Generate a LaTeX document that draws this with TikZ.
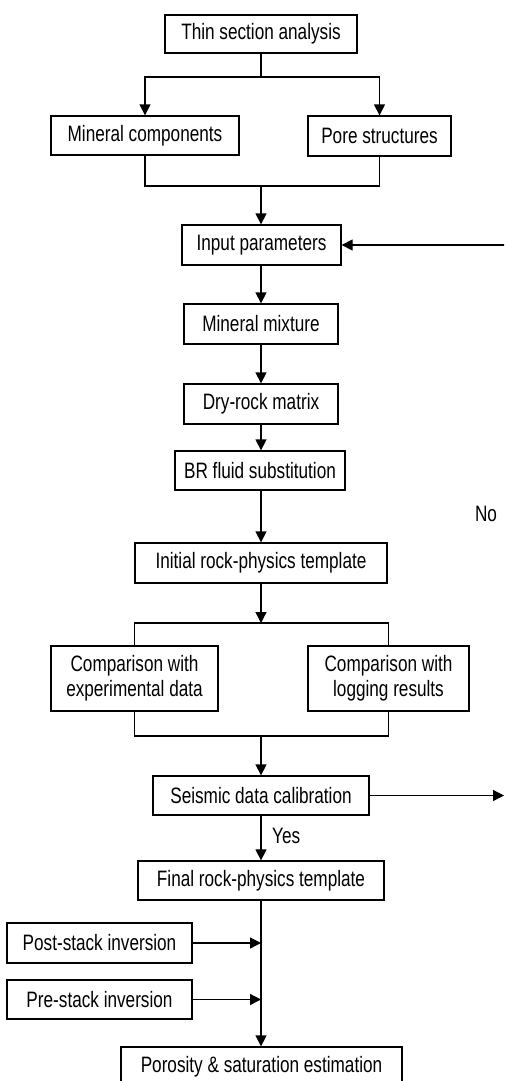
\documentclass[tikz,border=0pt]{standalone}
\usepackage{fontspec}
\setmainfont{Liberation Sans}[FakeStretch=0.77]
\usetikzlibrary{arrows.meta}
\begin{document}
\begin{tikzpicture}[x=1pt,y=1pt,
  every node/.style={font=\fontsize{22.3}{25}\selectfont},
  box/.style={draw, line width=1.3pt, inner sep=0pt, align=center},
  conn/.style={line width=1.3pt},
  arr/.style={conn, -{Triangle[length=11pt,width=11pt]}},
  lbl/.style={inner sep=0pt}
]
\useasboundingbox (0,0) rectangle (504,-1081);
\clip (0,0) rectangle (504,-1081);

\node[box, minimum width=192pt, minimum height=38pt] (thin) at (261,-34) {Thin section analysis};
\node[box, minimum width=188pt, minimum height=39pt] (mc) at (145,-135.5) {Mineral components};
\node[box, minimum width=143pt, minimum height=40pt] (ps) at (379.5,-136) {Pore structures};
\node[box, minimum width=159pt, minimum height=40pt] (inp) at (261.5,-245) {Input parameters};
\node[box, minimum width=154pt, minimum height=40pt] (mix) at (261,-324) {Mineral mixture};
\node[box, minimum width=154pt, minimum height=40pt] (dry) at (261,-404) {Dry-rock matrix};
\node[box, minimum width=170pt, minimum height=39pt] (br) at (260,-470.5) {BR fluid substitution};
\node[box, minimum width=252pt, minimum height=40pt] (init) at (261,-563) {Initial rock-physics template};
\node[box, minimum width=167pt, minimum height=65pt] (exp) at (134.5,-678.5) {Comparison with\\experimental data};
\node[box, minimum width=161pt, minimum height=65pt] (log) at (388.5,-678.5) {Comparison with\\logging results};
\node[box, minimum width=216pt, minimum height=39pt] (seis) at (261,-795.5) {Seismic data calibration};
\node[box, minimum width=246pt, minimum height=39pt] (fin) at (261,-880.5) {Final rock-physics template};
\node[box, minimum width=185pt, minimum height=40pt] (post) at (99.5,-943) {Post-stack inversion};
\node[box, minimum width=185pt, minimum height=39pt] (pre) at (99.5,-999.5) {Pre-stack inversion};
\node[box, minimum width=281pt, minimum height=40pt] (por) at (261.5,-1067) {Porosity \& saturation estimation};

\node[lbl] (no) at (486,-514) {No};
\node[lbl, anchor=west] (yes) at (272,-836) {Yes};

\coordinate (j1) at (261,-77);
\coordinate (j2) at (261,-186);
\coordinate (j3) at (261,-623);
\coordinate (j4) at (261,-736);
\coordinate (m1) at (261,-943);
\coordinate (m2) at (261,-999.5);
\coordinate (fbout) at (504,-795.5);
\coordinate (fbin) at (505,-245);

\draw[conn] (thin.south) -- (j1);
\draw[arr] (j1) -| (mc.north);
\draw[arr] (j1) -| (ps.north);
\draw[conn] (mc.south) |- (j2);
\draw[conn] (ps.south) |- (j2);
\draw[arr] (j2) -- (inp.north -| j2);
\draw[arr] (inp.south -| j2) -- (mix.north -| j2);
\draw[arr] (mix.south -| j2) -- (dry.north -| j2);
\draw[arr] (dry.south -| j2) -- (br.north -| j2);
\draw[arr] (br.south -| j2) -- (init.north -| j2);
\draw[arr] (init.south) -- (j3);
\draw[conn] (j3) -| (exp.north);
\draw[conn] (j3) -| (log.north);
\draw[conn] (exp.south) |- (j4);
\draw[conn] (log.south) |- (j4);
\draw[arr] (j4) -- (seis.north);
\draw[arr] (seis) -- (fin);
\draw[arr] (seis.east) -- (fbout);
\draw[arr] (fbin) -- (inp.east);
\draw[arr] (fin.south) -- (por.north -| fin.south);
\draw[arr] (post.east) -- (m1);
\draw[arr] (pre.east) -- (m2);
\end{tikzpicture}
\end{document}
